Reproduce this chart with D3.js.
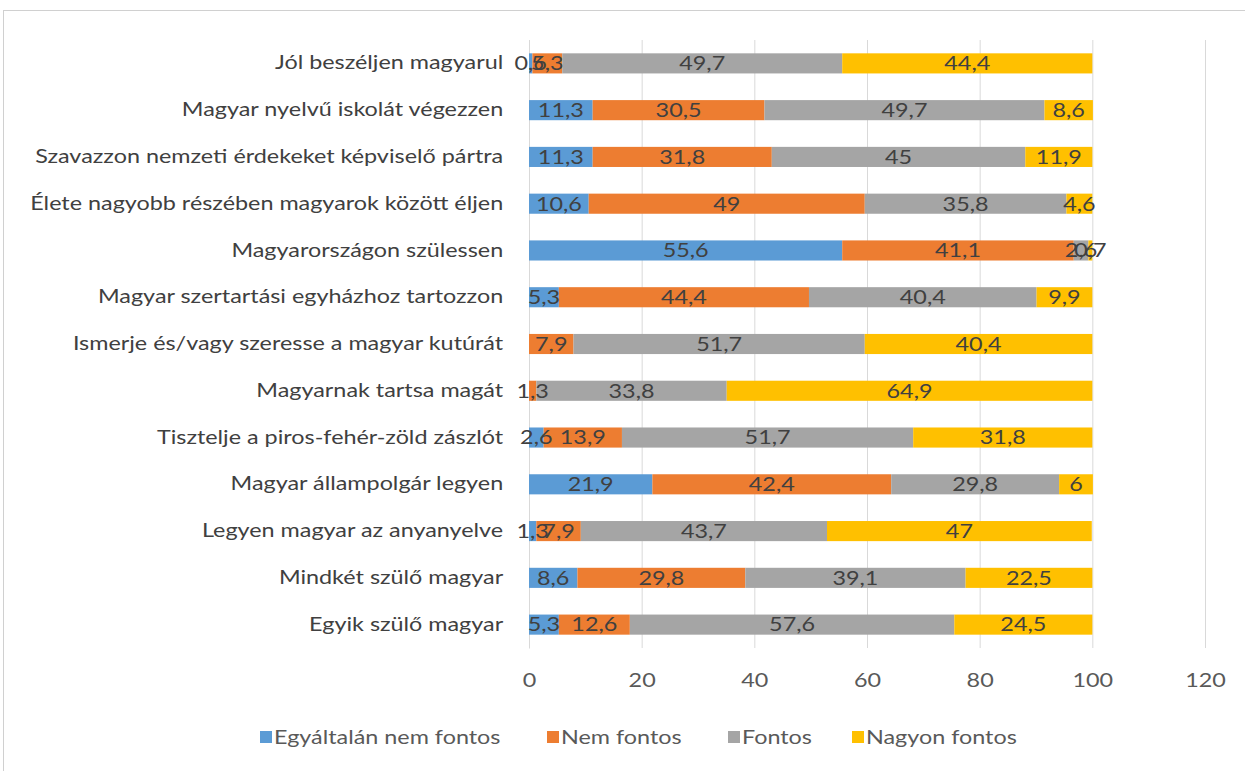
<!DOCTYPE html>
<html lang="hu">
<head>
<meta charset="UTF-8" />
<title>Stacked bar chart</title>
<script src="https://cdn.jsdelivr.net/npm/d3@7"></script>
<style>
  body { margin: 0; background: #fff; }
  text { font-family: Lato, "Open Sans", sans-serif; }
</style>
</head>
<body>
<div id="chart"></div>
<script>
// categories, top to bottom
const categories = [
  "Jól beszéljen magyarul",
  "Magyar nyelvű iskolát végezzen",
  "Szavazzon nemzeti érdekeket képviselő pártra",
  "Élete nagyobb részében magyarok között éljen",
  "Magyarországon szülessen",
  "Magyar szertartási egyházhoz tartozzon",
  "Ismerje és/vagy szeresse  a magyar kutúrát",
  "Magyarnak tartsa magát",
  "Tisztelje a piros-fehér-zöld zászlót",
  "Magyar állampolgár legyen",
  "Legyen magyar az anyanyelve",
  "Mindkét szülő magyar",
  "Egyik szülő magyar"
];
const seriesNames = ["Egyáltalán nem fontos", "Nem fontos", "Fontos", "Nagyon fontos"];
const egyaltalan = [0.6, 11.3, 11.3, 10.6, 55.6, 5.3, 0, 0, 2.6, 21.9, 1.3, 8.6, 5.3];
const nemFontos  = [5.3, 30.5, 31.8, 49, 41.1, 44.4, 7.9, 1.3, 13.9, 42.4, 7.9, 29.8, 12.6];
const fontos     = [49.7, 49.7, 45, 35.8, 2.6, 40.4, 51.7, 33.8, 51.7, 29.8, 43.7, 39.1, 57.6];
const nagyon     = [44.4, 8.6, 11.9, 4.6, 0.7, 9.9, 40.4, 64.9, 31.8, 6, 47, 22.5, 24.5];
const xTicks = [0, 20, 40, 60, 80, 100, 120];
const colors = ["#5B9BD5", "#ED7D31", "#A5A5A5", "#FFC000"];

const W = 1245, H = 771;
const stretch = 1.23; // the original text is drawn wide
const margin = { top: 40, right: 40, bottom: 123, left: 529 };
const width = 1205 - margin.left, height = 648 - margin.top;

const svg = d3.select("#chart").append("svg")
  .attr("width", W).attr("height", H);

// outer frame
svg.append("rect")
  .attr("x", 3.5).attr("y", 10.5)
  .attr("width", W + 10).attr("height", H + 10)
  .attr("fill", "none").attr("stroke", "#d0d0d0");

const g = svg.append("g").attr("transform", `translate(${margin.left},${margin.top})`);

const x = d3.scaleLinear().domain([0, 120]).range([0, width]);
const y = d3.scaleBand().domain(categories).range([0, height]).paddingInner(0.57).paddingOuter(0.285);

// gridlines
g.append("g").selectAll("line").data(xTicks).join("line")
  .attr("x1", d => x(d) + 0.5).attr("x2", d => x(d) + 0.5)
  .attr("y1", 0).attr("y2", height)
  .attr("stroke", "#d9d9d9");

// x axis labels
const xAxis = g.append("g")
  .attr("transform", `translate(0,${height})`)
  .call(d3.axisBottom(x).tickValues(xTicks).tickSize(0).tickPadding(26));
xAxis.select(".domain").remove();
xAxis.selectAll("text").attr("font-size", 19).attr("fill", "#595959")
  .attr("transform", `scale(${stretch},1)`)
  .style("font-family", "Lato, 'Open Sans', sans-serif");

// y axis labels
const yAxis = g.append("g")
  .call(d3.axisLeft(y).tickSize(0).tickPadding(21));
yAxis.select(".domain").attr("stroke", "#d9d9d9");
yAxis.selectAll("text").attr("font-size", 19).attr("fill", "#404040")
  .attr("transform", `scale(${stretch},1)`)
  .style("font-family", "Lato, 'Open Sans', sans-serif");

// stack
const rows = categories.map((c, i) => ({
  cat: c,
  [seriesNames[0]]: egyaltalan[i],
  [seriesNames[1]]: nemFontos[i],
  [seriesNames[2]]: fontos[i],
  [seriesNames[3]]: nagyon[i]
}));
const stacked = d3.stack().keys(seriesNames)(rows);

g.append("g").selectAll("g").data(stacked).join("g")
  .attr("fill", (d, i) => colors[i])
  .selectAll("rect")
  .data(d => d)
  .join("rect")
  .attr("x", d => x(d[0]))
  .attr("y", d => y(d.data.cat))
  .attr("width", d => x(d[1]) - x(d[0]))
  .attr("height", y.bandwidth());

// value labels, drawn on top of every bar
const labels = stacked.flatMap(s => s.filter(p => p[1] - p[0] > 0).map(p => ({ p, key: s.key })));
g.append("g").selectAll("text")
  .data(labels)
  .join("text")
  .attr("transform", d => `translate(${x((d.p[0] + d.p[1]) / 2)},${y(d.p.data.cat) + y.bandwidth() / 2}) scale(${stretch},1)`)
  .attr("dy", "0.36em")
  .attr("text-anchor", "middle")
  .attr("font-size", 19)
  .attr("fill", "#404040")
  .text(d => String(d.p.data[d.key]).replace(".", ","));

// legend
const legendX = [260, 547, 728, 852];
const legend = svg.append("g").selectAll("g").data(seriesNames).join("g")
  .attr("transform", (d, i) => `translate(${legendX[i]},737)`);
legend.append("rect")
  .attr("x", 0).attr("y", -6).attr("width", 12).attr("height", 12)
  .attr("fill", (d, i) => colors[i]);
legend.append("text")
  .attr("transform", `translate(14,0) scale(${stretch},1)`)
  .attr("dy", "0.36em")
  .attr("font-size", 19).attr("fill", "#595959")
  .text(d => d);
</script>
</body>
</html>
